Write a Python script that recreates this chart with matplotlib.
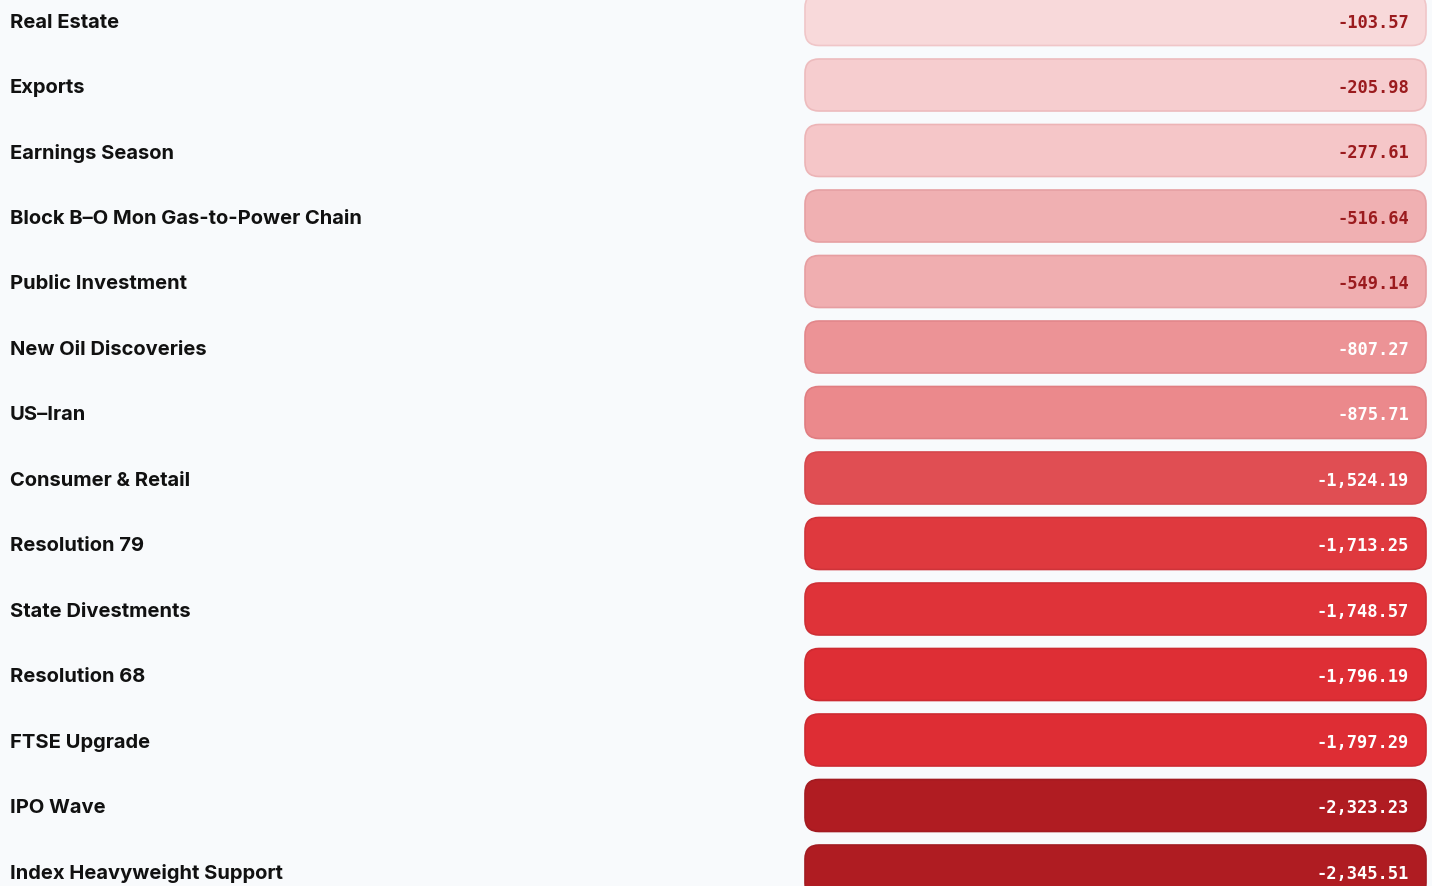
import matplotlib.pyplot as plt
from matplotlib.patches import FancyBboxPatch

labels = ["Real Estate", "Exports", "Earnings Season", "Block B\u2013O Mon Gas-to-Power Chain",
          "Public Investment", "New Oil Discoveries", "US\u2013Iran", "Consumer & Retail",
          "Resolution 79", "State Divestments", "Resolution 68", "FTSE Upgrade",
          "IPO Wave", "Index Heavyweight Support"]
values = [-103.57, -205.98, -277.61, -516.64, -549.14, -807.27, -875.71, -1524.19,
          -1713.25, -1748.57, -1796.19, -1797.29, -2323.23, -2345.51]

# fill colours, lightest to darkest
fills = ["#f8d9da", "#f6cdcf", "#f5c6c8", "#f0b0b2", "#f0aeb0", "#ec9396", "#eb898c",
         "#e04e53", "#df393e", "#df3339", "#de2e35", "#de2d34", "#b01c22", "#af1c22"]
edges = ["#f0c6c8", "#edbbbd", "#ecb4b6", "#e6a0a3", "#e69ea1", "#e2868a", "#e07d81",
         "#d5474c", "#cf3339", "#ce2f35", "#cd2a31", "#cd2a31", "#a31b21", "#a21b21"]

W, H = 1432, 887
pitch = 65.5
top = 20.5
fig = plt.figure(figsize=(W / 100, H / 100), dpi=100)
fig.patch.set_facecolor("#f8fafc")
ax = fig.add_axes([0, 0, 1, 1])
ax.set_facecolor("#f8fafc")
ax.set_xlim(0, W)
ax.set_ylim((H - top) / pitch, -top / pitch)
ax.axis("off")

box_h = 52 / pitch
for i, (lab, v) in enumerate(zip(labels, values)):
    ax.text(10, i, lab, ha="left", va="center_baseline", fontsize=14.5, fontweight="bold",
            family=["Inter", "DejaVu Sans"], color="#111111")
    p = FancyBboxPatch((805, i - box_h / 2), 621, box_h,
                       boxstyle="round,pad=0,rounding_size=14",
                       mutation_aspect=1 / pitch,
                       facecolor=fills[i], edgecolor=edges[i], linewidth=1.2)
    ax.add_patch(p)
    tc = "#9b1b1e" if abs(v) < 700 else "white"
    ax.text(1409, i, f"{v:,.2f}", ha="right", va="center_baseline", fontsize=12.3,
            fontweight="bold", family="DejaVu Sans Mono", color=tc)

plt.savefig("out.png", dpi=100, facecolor=fig.get_facecolor())
